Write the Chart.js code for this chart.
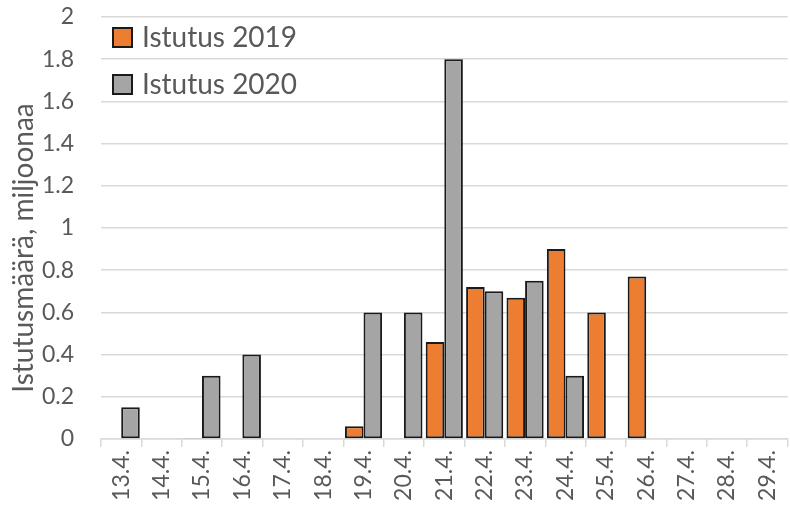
<!DOCTYPE html>
<html>
<head>
<meta charset="utf-8">
<script src="https://cdn.jsdelivr.net/npm/chart.js"></script>
<style>
  html, body { margin: 0; padding: 0; background: #fff; overflow: hidden; }
  #wrap { width: 798px; height: 515px; }
</style>
</head>
<body>
<div id="wrap"><canvas id="myChart"></canvas></div>
<script>
var days = ['13.4.', '14.4.', '15.4.', '16.4.', '17.4.', '18.4.', '19.4.', '20.4.', '21.4.',
            '22.4.', '23.4.', '24.4.', '25.4.', '26.4.', '27.4.', '28.4.', '29.4.'];
var istutus2019 = [0, 0, 0.005, 0, 0, 0, 0.06, 0, 0.46, 0.72, 0.67, 0.9, 0.6, 0.77, 0, 0, 0];
var istutus2020 = [0.15, 0, 0.3, 0.4, 0, 0, 0.6, 0.6, 1.8, 0.7, 0.75, 0.3, 0, 0, 0, 0, 0];
var yTitle = 'Istutusmäärä, miljoonaa';

var font = 'Lato';

// legend inside the plot (top left) and the y title, placed like Excel does
var extras = {
  id: 'extras',
  afterDraw: function(chart) {
    var c = chart.ctx;
    var area = chart.chartArea;
    c.save();
    c.font = '28px ' + font;
    c.textBaseline = 'middle';
    chart.data.datasets.forEach(function(ds, i) {
      var x = area.left + 12;
      var y = 37 + i * 47;
      c.fillStyle = ds.backgroundColor;
      c.fillRect(x, y - 9, 19, 19);
      c.strokeStyle = '#1a1a1a';
      c.lineWidth = 2;
      c.strokeRect(x, y - 9, 19, 19);
      c.fillStyle = '#595959';
      c.fillText(ds.label, x + 29, y + 1);
    });
    c.restore();

    c.save();
    c.translate(33, 248);
    c.rotate(-Math.PI / 2);
    c.font = '28px ' + font;
    c.fillStyle = '#595959';
    c.textAlign = 'center';
    c.textBaseline = 'alphabetic';
    c.fillText(yTitle, 0, 0);
    c.restore();
  }
};

var ctx = document.getElementById('myChart').getContext('2d');
var myChart = new Chart(ctx, {
  type: 'bar',
  data: {
    labels: days,
    datasets: [{
      label: 'Istutus 2019',
      data: istutus2019,
      backgroundColor: '#ED7D31',
      borderColor: '#1a1a1a',
      borderWidth: 2,
      borderSkipped: false
    }, {
      label: 'Istutus 2020',
      data: istutus2020,
      backgroundColor: '#A5A5A5',
      borderColor: '#1a1a1a',
      borderWidth: 2,
      borderSkipped: false
    }]
  },
  options: {
    responsive: true,
    maintainAspectRatio: false,
    animation: false,
    layout: { padding: { top: 17, left: 0, right: 0, bottom: 0 } },
    datasets: { bar: { categoryPercentage: 0.92, barPercentage: 1.0 } },
    plugins: {
      legend: { display: false },
      tooltip: { enabled: false }
    },
    scales: {
      x: {
        grid: {
          offset: true,
          drawOnChartArea: false,
          drawTicks: true,
          tickLength: 8,
          color: '#d9d9d9',
          lineWidth: 1.5
        },
        border: { color: '#d9d9d9', width: 1.5 },
        ticks: {
          color: '#595959',
          font: { family: font, size: 23 },
          minRotation: 90,
          maxRotation: 90,
          padding: 3
        },
        afterFit: function(scale) { scale.height = 76; }
      },
      y: {
        min: 0,
        max: 2,
        ticks: {
          stepSize: 0.2,
          color: '#595959',
          font: { family: font, size: 23 },
          padding: 0,
          callback: function(v) { return String(Math.round(v * 10) / 10); }
        },
        grid: {
          color: '#d9d9d9',
          lineWidth: 1.5,
          drawTicks: true,
          tickLength: 27,
          tickColor: 'rgba(0,0,0,0)'
        },
        border: { display: false },
        afterFit: function(scale) { scale.width = 101; }
      }
    }
  },
  plugins: [extras]
});
</script>
</body>
</html>
